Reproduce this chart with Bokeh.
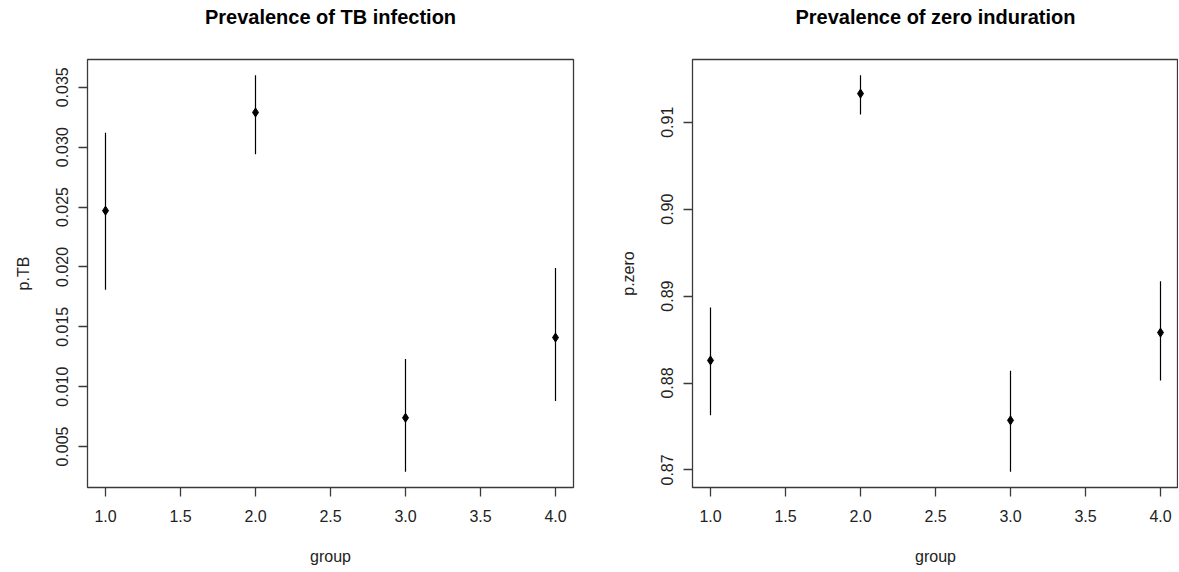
from bokeh.plotting import figure
from bokeh.layouts import row
from bokeh.models import Range1d, FixedTicker, ColumnDataSource, LinearAxis
from bokeh.embed import file_html
from bokeh.resources import INLINE

# ---- data ----
groups = [1, 2, 3, 4]

tb_est = [0.0247, 0.0329, 0.0074, 0.0141]
tb_lo = [0.0181, 0.0294, 0.0029, 0.0088]
tb_hi = [0.0312, 0.0360, 0.0123, 0.0199]

zero_est = [0.8826, 0.9133, 0.8757, 0.8858]
zero_lo = [0.8763, 0.9109, 0.8698, 0.8803]
zero_hi = [0.8887, 0.9154, 0.8814, 0.8917]

x_ticks = [1.0, 1.5, 2.0, 2.5, 3.0, 3.5, 4.0]
x_tick_labels = ["1.0", "1.5", "2.0", "2.5", "3.0", "3.5", "4.0"]
tb_ticks = [0.005, 0.010, 0.015, 0.020, 0.025, 0.030, 0.035]
tb_tick_labels = ["0.005", "0.010", "0.015", "0.020", "0.025", "0.030", "0.035"]
zero_ticks = [0.87, 0.88, 0.89, 0.90, 0.91]
zero_tick_labels = ["0.87", "0.88", "0.89", "0.90", "0.91"]

titles = ["Prevalence of TB infection", "Prevalence of zero induration"]
ylabels = ["p.TB", "p.zero"]
xlabel = "group"

FONT = "Liberation Sans"
FRAME_H = 428
TOP = 59
BOTTOM = 85


def pad_range(lo, hi, frac=0.04):
    d = (hi - lo) * frac
    return lo - d, hi + d


def make_plot(title, ylabel, est, lo, hi, yticks, ylabels_txt,
              width, border_left, border_right):
    x0, x1 = pad_range(min(groups), max(groups))
    y0, y1 = pad_range(min(lo), max(hi))
    p = figure(width=width, height=TOP + FRAME_H + BOTTOM,
               x_range=Range1d(x0, x1), y_range=Range1d(y0, y1),
               output_backend="svg", toolbar_location=None,
               min_border_left=border_left, min_border_right=border_right,
               min_border_top=TOP, min_border_bottom=BOTTOM,
               background_fill_color="white", border_fill_color="white")
    p.grid.visible = False
    p.outline_line_color = "#3a3a3a"
    p.outline_line_width = 1.3

    xax = p.below[0]
    yax = p.left[0]
    for ax in (xax, yax):
        ax.axis_line_color = None
        ax.major_tick_line_color = "#3a3a3a"
        ax.major_tick_line_width = 1.3
        ax.major_tick_out = 9
        ax.major_tick_in = 0
        ax.minor_tick_line_color = None
        ax.major_label_text_font = FONT
        ax.major_label_text_font_size = "16px"
        ax.major_label_text_color = "#222222"
        ax.axis_label_text_font = FONT
        ax.axis_label_text_font_size = "16px"
        ax.axis_label_text_font_style = "normal"
        ax.axis_label_text_color = "#222222"

    xax.ticker = FixedTicker(ticks=x_ticks)
    xax.major_label_overrides = {t: s for t, s in zip(x_ticks, x_tick_labels)}
    xax.axis_label = xlabel
    xax.major_label_standoff = 13
    xax.axis_label_standoff = 23

    yax.ticker = FixedTicker(ticks=yticks)
    yax.major_label_overrides = {t: s for t, s in zip(yticks, ylabels_txt)}
    yax.major_label_orientation = "vertical"
    yax.axis_label = ylabel
    yax.major_label_standoff = 10
    yax.axis_label_standoff = 22

    # title as the label of a tick-less axis placed above the frame
    tax = LinearAxis(ticker=FixedTicker(ticks=[]), axis_label=title,
                     axis_line_color=None, major_tick_line_color=None,
                     minor_tick_line_color=None, major_tick_out=0,
                     major_tick_in=0, minor_tick_out=0, minor_tick_in=0,
                     major_label_standoff=0, axis_label_standoff=32,
                     axis_label_text_font=FONT,
                     axis_label_text_font_size="20px",
                     axis_label_text_font_style="bold",
                     axis_label_text_color="black")
    p.add_layout(tax, "above")

    src = ColumnDataSource(dict(x=groups, est=est, lo=lo, hi=hi))
    p.segment(x0="x", y0="lo", x1="x", y1="hi", source=src,
              line_color="black", line_width=1.2)
    p.scatter(x="x", y="est", source=src, marker="diamond", size=9,
              fill_color="black", line_color="black")
    return p


p1 = make_plot(titles[0], ylabels[0], tb_est, tb_lo, tb_hi,
               tb_ticks, tb_tick_labels, 612, 87, 39)
p2 = make_plot(titles[1], ylabels[1], zero_est, zero_lo, zero_hi,
               zero_ticks, zero_tick_labels, 566, 80, 0)

layout = row(p1, p2)
open("out.html", "w").write(file_html(layout, INLINE))
